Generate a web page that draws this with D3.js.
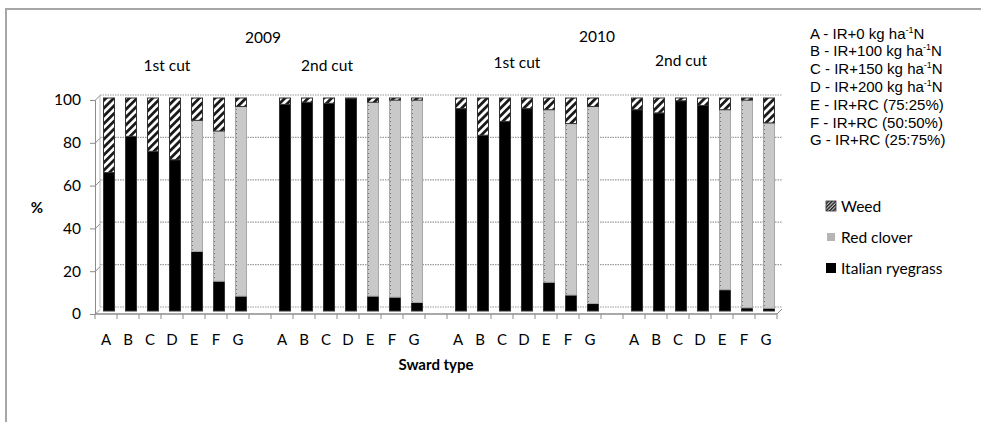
<!DOCTYPE html>
<html><head><meta charset="utf-8">
<script src="https://cdn.jsdelivr.net/npm/d3@7"></script>
<style>
html,body{margin:0;padding:0;background:#fff;}
text{font-family:Lato,"Open Sans",sans-serif;fill:#000;}
</style></head>
<body>
<svg id="chart" width="981" height="422"></svg>
<script>
// ---- data ----
const swardTypes = ["A","B","C","D","E","F","G"];
const groups = ["2009 1st cut","2009 2nd cut","2010 1st cut","2010 2nd cut"];
const years = ["2009","2010"];
const cuts = ["1st cut","2nd cut","1st cut","2nd cut"];
const ryegrass = [65,82,75,71,28,14,7, 97,98,97.5,99.7,7,6.5,4, 95,82.5,89,95,13.5,7.5,3.5, 94.5,93,98.7,96.5,10,1.5,1.3];
const redClover = [0,0,0,0,61.5,70.5,89, 0,0,0,0,91,92.5,95, 0,0,0,0,81,80.5,92.5, 0,0,0,0,84.5,97.5,87];
const weed = [35,18,25,29,10.5,15.5,4, 3,2,2.5,0.3,2,1,1, 5,17.5,11,5,5.5,12,4, 5.5,7,1.3,3.5,5.5,1,11.7];
const yTicks = [0,20,40,60,80,100];
const seriesNames = ["Italian ryegrass","Red clover","Weed"];
const legendLines = [
  ["A - IR+0  kg ha","-1","N"],
  ["B - IR+100 kg ha","-1","N"],
  ["C - IR+150 kg ha","-1","N"],
  ["D - IR+200 kg ha","-1","N"],
  ["E - IR+RC  (75:25%)"],
  ["F - IR+RC  (50:50%)"],
  ["G - IR+RC  (25:75%)"]
];

// ---- build table ----
const rows = [];
const slots = [];
groups.forEach((g,gi)=>{
  swardTypes.forEach((s,si)=>{
    const i = gi*7+si;
    const key = g+"|"+s;
    slots.push(key);
    rows.push({key, type:s, group:g, "Italian ryegrass":ryegrass[i], "Red clover":redClover[i], "Weed":weed[i]});
  });
  if(gi<groups.length-1) slots.push("gap"+gi);
});

const svg = d3.select("#chart");
svg.append("rect").attr("width",981).attr("height",422).attr("fill","#fff");

// patterns
const defs = svg.append("defs");
const pw = defs.append("pattern").attr("id","weedPat").attr("patternUnits","userSpaceOnUse")
  .attr("width",5.5).attr("height",5.5).attr("patternTransform","rotate(45)");
pw.append("rect").attr("width",5.5).attr("height",5.5).attr("fill","#fff");
pw.append("rect").attr("width",2.8).attr("height",5.5).attr("fill","#1a1a1a");
const pwl = defs.append("pattern").attr("id","weedLeg").attr("patternUnits","userSpaceOnUse")
  .attr("width",2.5).attr("height",2.5).attr("patternTransform","rotate(45)");
pwl.append("rect").attr("width",2.5).attr("height",2.5).attr("fill","#ccc");
pwl.append("rect").attr("width",1.4).attr("height",2.5).attr("fill","#222");
const pr = defs.append("pattern").attr("id","rcPat").attr("patternUnits","userSpaceOnUse")
  .attr("width",11).attr("height",4);
pr.append("rect").attr("width",11).attr("height",4).attr("fill","#c9c9c9");
pr.append("rect").attr("x",5).attr("y",1).attr("width",1).attr("height",1).attr("fill","#777");

// scales
const x = d3.scaleBand().domain(slots).range([95,777]).padding(0);
const yFront = d3.scaleLinear().domain([0,100]).range([314,100]);
const yBack = d3.scaleLinear().domain([0,100]).range([307,95]);
const yBar = d3.scaleLinear().domain([0,100]).range([311,98]);
const depth = 5, barOff = 3, barW = 11;

// frame
svg.append("path").attr("d","M6,422 L6,9 L981,9").attr("fill","none").attr("stroke","#a6a6a6").attr("stroke-width",2);

// gridlines (back wall)
svg.append("g").selectAll("line").data(yTicks.filter(d=>d>0)).join("line")
  .attr("x1",95+depth).attr("x2",777+depth)
  .attr("y1",d=>yBack(d)).attr("y2",d=>yBack(d))
  .attr("stroke","#9a9a9a").attr("stroke-width",1.2).attr("stroke-dasharray","1.5,1");
svg.append("line").attr("x1",95+depth).attr("x2",777+depth).attr("y1",yBack(0)).attr("y2",yBack(0))
  .attr("stroke","#9a9a9a").attr("stroke-dasharray","1.5,1");
svg.append("line").attr("x1",95+depth).attr("x2",95+depth).attr("y1",yBack(0)).attr("y2",yBack(100))
  .attr("stroke","#bbb");

// y axis (front)
const yAxis = d3.axisLeft(yFront).tickValues(yTicks).tickSize(5).tickPadding(9);
const ya = svg.append("g").attr("transform","translate(95,0)").call(yAxis);
ya.select(".domain").attr("stroke","#8c8c8c");
ya.selectAll(".tick line").attr("stroke","#8c8c8c");
ya.selectAll(".tick text").attr("font-size",15.5).attr("font-family","Lato").attr("fill","#000");
ya.selectAll(".tick").append("line").attr("x1",0).attr("y1",0).attr("x2",depth).attr("y2",-depth).attr("stroke","#8c8c8c");

// x axis (front)
const xa = svg.append("g").attr("transform","translate(0,314)");
xa.append("line").attr("x1",95).attr("x2",777).attr("y1",0).attr("y2",0).attr("stroke","#8c8c8c").attr("stroke-width",1.5);
xa.append("line").attr("x1",777).attr("x2",777+depth).attr("y1",0).attr("y2",-depth).attr("stroke","#8c8c8c");
const bounds = slots.map(s=>x(s)).concat([777]);
xa.selectAll("line.tk").data(bounds).join("line").attr("class","tk")
  .attr("x1",d=>d).attr("x2",d=>d).attr("y1",0).attr("y2",5).attr("stroke","#8c8c8c");
xa.selectAll("text").data(rows).join("text")
  .attr("x",d=>x(d.key)+x.bandwidth()/2).attr("y",31)
  .attr("text-anchor","middle").attr("font-size",15).text(d=>d.type);

// bars
const stack = d3.stack().keys(seriesNames);
const stacked = stack(rows);
const fills = {"Italian ryegrass":"#000","Red clover":"url(#rcPat)","Weed":"url(#weedPat)"};
const strokes = {"Italian ryegrass":"#333","Red clover":"#a8a8a8","Weed":"#333"};
svg.append("g").selectAll("g").data(stacked).join("g")
  .attr("fill",s=>fills[s.key]).attr("stroke",s=>strokes[s.key]).attr("stroke-width",1)
  .selectAll("rect").data(s=>s.filter(d=>d[1]-d[0]>0)).join("rect")
  .attr("x",d=>x(d.data.key)+x.bandwidth()/2+barOff-barW/2)
  .attr("width",barW)
  .attr("y",d=>yBar(d[1]))
  .attr("height",d=>yBar(d[0])-yBar(d[1]));

// group titles
const cutPos = [[167,71],[327,71],[517,68],[681,66]];
cuts.forEach((c,i)=>{
  svg.append("text").attr("x",cutPos[i][0]).attr("y",cutPos[i][1]).attr("text-anchor","middle").attr("font-size",15.5).text(c);
});
svg.append("text").attr("x",263).attr("y",43).attr("text-anchor","middle").attr("font-size",15.5).text(years[0]);
svg.append("text").attr("x",597).attr("y",42).attr("text-anchor","middle").attr("font-size",15.5).text(years[1]);

// axis titles
svg.append("text").attr("x",37).attr("y",213).attr("text-anchor","middle").attr("font-size",15).attr("font-weight","bold").text("%");
svg.append("text").attr("x",436).attr("y",370).attr("text-anchor","middle").attr("font-size",15).attr("font-weight","bold").text("Sward type");

// code legend
const cl = svg.append("g");
legendLines.forEach((ln,i)=>{
  const t = cl.append("text").attr("x",810).attr("y",38.5+i*17.8).attr("font-size",15)
    .style("font-family","'Liberation Sans',Arial,sans-serif");
  t.append("tspan").text(ln[0]);
  if(ln.length>1){
    t.append("tspan").attr("font-size",9).attr("dy",-6).text(ln[1]);
    t.append("tspan").attr("dy",6).text(ln[2]);
  }
});

// series legend
const legItems = [
  {name:"Weed", y:206, fill:"url(#weedLeg)", s:10, stroke:"#333"},
  {name:"Red clover", y:237, fill:"#b5b5b5", s:8, stroke:"none"},
  {name:"Italian ryegrass", y:268, fill:"#000", s:10, stroke:"none"}
];
const lg = svg.append("g");
lg.selectAll("rect").data(legItems).join("rect")
  .attr("x",d=>831-d.s/2).attr("y",d=>d.y-d.s/2).attr("width",d=>d.s).attr("height",d=>d.s)
  .attr("fill",d=>d.fill).attr("stroke",d=>d.stroke).attr("stroke-width",0.8);
lg.selectAll("text").data(legItems).join("text")
  .attr("x",841).attr("y",d=>d.y+5.5).attr("font-size",15.5).text(d=>d.name);
</script>
</body></html>
